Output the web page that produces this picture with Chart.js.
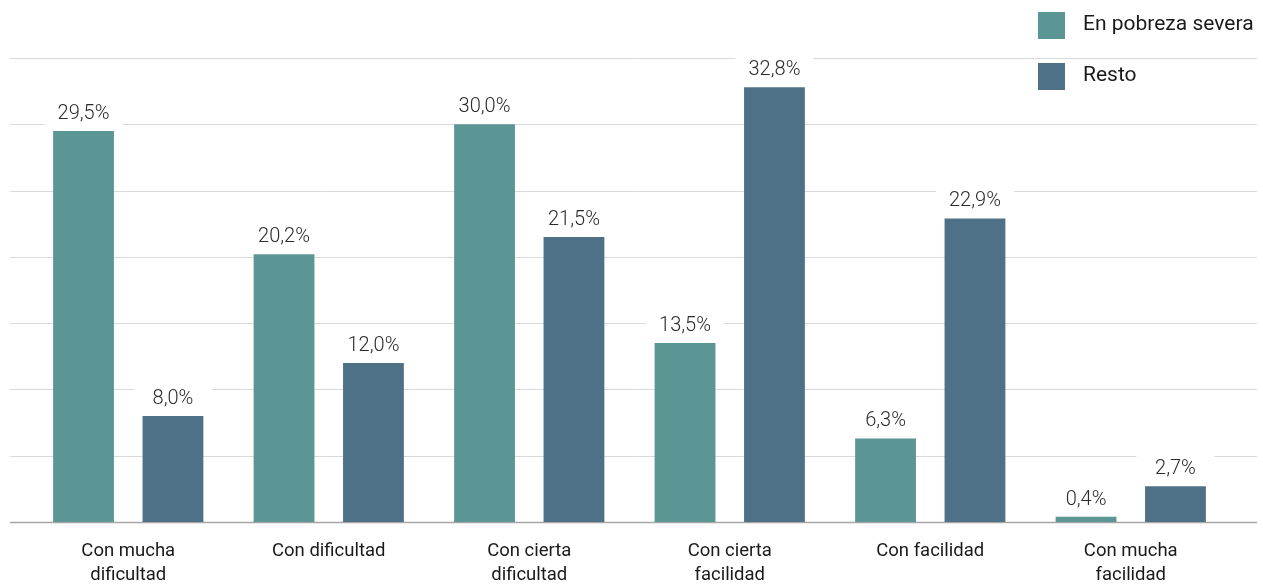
<!DOCTYPE html>
<html>
<head>
<meta charset="utf-8">
<script src="https://cdn.jsdelivr.net/npm/chart.js@4.4.1/dist/chart.umd.min.js"></script>
<style>
  html, body { margin: 0; padding: 0; background: #fff; }
  #wrap { width: 1263px; height: 585px; }
</style>
</head>
<body>
<div id="wrap"><canvas id="chart"></canvas></div>
<script>
const categories = [
    ["Con mucha", "dificultad"],
    "Con dificultad",
    ["Con cierta", "dificultad"],
    ["Con cierta", "facilidad"],
    "Con facilidad",
    ["Con mucha", "facilidad"]
];
const seriesNames = ["En pobreza severa", "Resto"];
const pobrezaSevera = [29.5, 20.2, 30.0, 13.5, 6.3, 0.4];
const resto = [8.0, 12.0, 21.5, 32.8, 22.9, 2.7];
const gridTicks = [0, 5, 10, 15, 20, 25, 30, 35];

const colors = ["#5b9694", "#4e7188"];
const fontFamily = "Roboto, 'Liberation Sans', sans-serif";

// horizontal grid, wider than the bar area
const gridPlugin = {
    id: "wideGrid",
    beforeDatasetsDraw(chart) {
        const ctx = chart.ctx;
        const y = chart.scales.y;
        ctx.save();
        gridTicks.forEach(v => {
            const py = Math.round(y.getPixelForValue(v)) + 0.5;
            ctx.strokeStyle = v === 0 ? "#a6a6a6" : "#d9d9d9";
            ctx.lineWidth = v === 0 ? 1.5 : 1;
            ctx.beginPath();
            ctx.moveTo(10, py);
            ctx.lineTo(1257, py);
            ctx.stroke();
        });
        ctx.restore();
    }
};

// value labels on white boxes
const labelPlugin = {
    id: "valueLabels",
    afterDatasetsDraw(chart) {
        const ctx = chart.ctx;
        ctx.save();
        ctx.font = "300 20px " + fontFamily;
        ctx.textAlign = "center";
        ctx.textBaseline = "middle";
        chart.data.datasets.forEach((ds, di) => {
            chart.getDatasetMeta(di).data.forEach((bar, i) => {
                const txt = ds.data[i].toFixed(1).replace(".", ",") + "%";
                const cy = bar.y - 17;
                ctx.fillStyle = "#fff";
                ctx.fillRect(bar.x - 39, cy - 14, 78, 28);
                ctx.fillStyle = "#2b2b2b";
                ctx.fillText(txt, bar.x, cy);
            });
        });
        ctx.restore();
    }
};

// legend in the top right corner
const legendPlugin = {
    id: "cornerLegend",
    afterDraw(chart) {
        const ctx = chart.ctx;
        ctx.save();
        ctx.font = "400 21px " + fontFamily;
        ctx.textBaseline = "middle";
        ctx.textAlign = "left";
        chart.data.datasets.forEach((ds, di) => {
            const top = 12 + di * 51;
            ctx.fillStyle = ds.backgroundColor;
            ctx.fillRect(1038, top, 27, 27);
            ctx.fillStyle = "#1a1a1a";
            ctx.fillText(ds.label, 1083, top + 13);
        });
        ctx.restore();
    }
};

new Chart(document.getElementById("chart"), {
    type: "bar",
    data: {
        labels: categories,
        datasets: [
            { label: seriesNames[0], data: pobrezaSevera, backgroundColor: colors[0] },
            { label: seriesNames[1], data: resto, backgroundColor: colors[1] }
        ]
    },
    options: {
        responsive: true,
        maintainAspectRatio: false,
        animation: false,
        categoryPercentage: 0.892,
        barPercentage: 0.68,
        layout: { padding: { left: 28, right: 32, top: 58, bottom: 0 } },
        plugins: {
            legend: { display: false },
            tooltip: { enabled: false }
        },
        scales: {
            x: {
                grid: { display: false, drawTicks: false },
                border: { display: false },
                afterFit(scale) { scale.height = 63; },
                ticks: {
                    autoSkip: false,
                    maxRotation: 0,
                    padding: 17,
                    color: "#1a1a1a",
                    font: { family: fontFamily, size: 18.5, lineHeight: 1.3 }
                }
            },
            y: {
                display: false,
                min: 0,
                max: 35
            }
        }
    },
    plugins: [gridPlugin, labelPlugin, legendPlugin]
});
</script>
</body>
</html>
